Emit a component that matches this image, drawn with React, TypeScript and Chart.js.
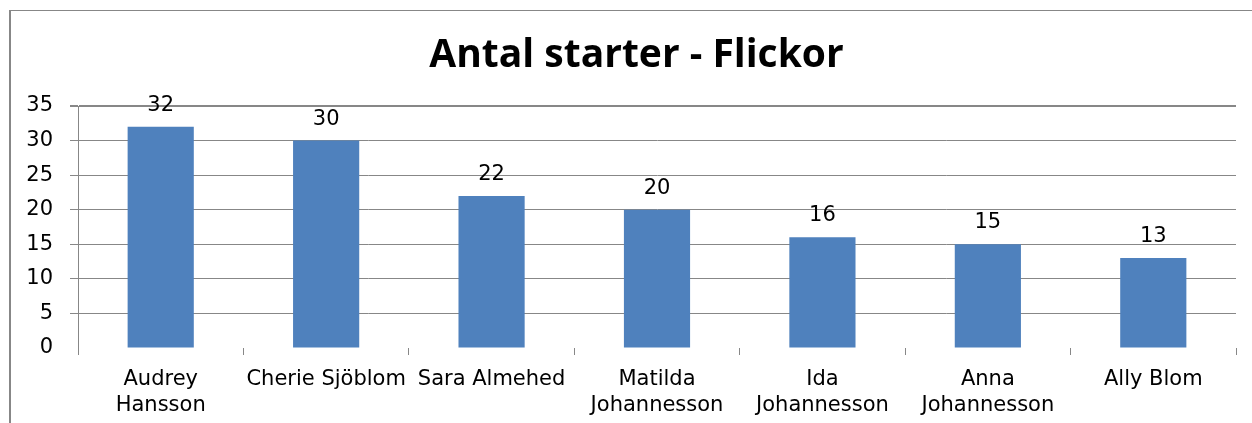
import React, { useEffect, useRef } from "react";
import { Chart, registerables } from "chart.js";

Chart.register(...registerables);

const TITLE = "Antal starter - Flickor";
const CATEGORIES: (string | string[])[] = [
  ["Audrey", "Hansson"],
  "Cherie Sjöblom",
  "Sara Almehed",
  ["Matilda", "Johannesson"],
  ["Ida", "Johannesson"],
  ["Anna", "Johannesson"],
  "Ally Blom",
];
const VALUES = [32, 30, 22, 20, 16, 15, 13];
const Y_MIN = 0;
const Y_MAX = 35;
const Y_STEP = 5;

const GRAY = "#878787";
const BAR = "#4F81BD";
const FONT = "'DejaVu Sans', Verdana, sans-serif";

const dataLabels = {
  id: "dataLabels",
  afterDatasetsDraw(chart: any) {
    const ctx = chart.ctx;
    const meta = chart.getDatasetMeta(0);
    ctx.save();
    ctx.font = `21px ${FONT}`;
    ctx.fillStyle = "#000";
    ctx.textAlign = "center";
    ctx.textBaseline = "alphabetic";
    meta.data.forEach((el: any, i: number) => {
      ctx.fillText(String(VALUES[i]), el.x, el.y - 16);
    });
    ctx.restore();
  },
};

const titlePlugin = {
  id: "centeredTitle",
  afterDraw(chart: any) {
    const ctx = chart.ctx;
    ctx.save();
    ctx.font = `bold 39px 'Open Sans', sans-serif`;
    ctx.fillStyle = "#000";
    ctx.textAlign = "center";
    ctx.textBaseline = "alphabetic";
    ctx.fillText(TITLE, 636.5, 67);
    ctx.restore();
  },
};

export default function App() {
  const ref = useRef<HTMLCanvasElement | null>(null);
  useEffect(() => {
    if (!ref.current) return;
    const chart = new Chart(ref.current, {
      type: "bar",
      data: {
        labels: CATEGORIES,
        datasets: [
          {
            data: VALUES,
            backgroundColor: BAR,
            borderWidth: 0,
            barPercentage: 0.4,
            categoryPercentage: 1,
          },
        ],
      },
      options: {
        animation: false,
        responsive: false,
        devicePixelRatio: 1,
        layout: { padding: { left: 18, right: 16, top: 106, bottom: 0 } },
        plugins: {
          legend: { display: false },
          tooltip: { enabled: false },
          title: { display: false },
        },
        scales: {
          x: {
            offset: true,
            border: { display: false },
            grid: {
              offset: true,
              drawOnChartArea: false,
              drawTicks: true,
              tickLength: 7,
              color: GRAY,
              lineWidth: 1,
            },
            ticks: {
              color: "#000",
              font: { family: FONT, size: 21, lineHeight: 26 / 21 },
              padding: 12,
              maxRotation: 0,
              autoSkip: false,
            },
            afterFit: (s: any) => {
              s.height = 75;
            },
          },
          y: {
            min: Y_MIN,
            max: Y_MAX,
            border: { display: true, color: GRAY, width: 1 },
            grid: {
              color: (c: any) => (c.tick && c.tick.value === 0 ? "rgba(0,0,0,0)" : GRAY),
              lineWidth: (c: any) => (c.tick && c.tick.value === Y_MAX ? 2 : 1),
              tickLength: 8,
            },
            ticks: {
              stepSize: Y_STEP,
              color: "#000",
              font: { family: FONT, size: 21 },
              padding: 17,
            },
            afterFit: (s: any) => {
              s.width = 60;
            },
          },
        },
      },
      plugins: [dataLabels, titlePlugin],
    } as any);
    return () => chart.destroy();
  }, []);

  return (
    <div
      style={{
        position: "fixed",
        left: 0,
        top: 0,
        width: 1252,
        height: 423,
        background: "#fff",
        overflow: "hidden",
      }}
    >
      <canvas ref={ref} width={1252} height={423} style={{ display: "block", width: 1252, height: 423 }} />
      <div
        style={{
          position: "absolute",
          left: 9,
          top: 10,
          width: 1400,
          height: 600,
          borderTop: `1px solid ${GRAY}`,
          borderLeft: `2px solid ${GRAY}`,
          pointerEvents: "none",
        }}
      />
    </div>
  );
}
